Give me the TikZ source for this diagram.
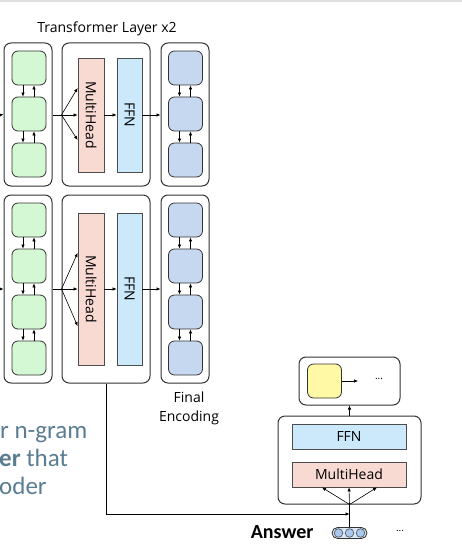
\documentclass[tikz,border=0pt]{standalone}
\usepackage{fontspec}
\setmainfont{Open Sans}
\newfontfamily\slidefont{Carlito}
\usepackage{xcolor}
\definecolor{encgreen}{HTML}{D3F8D3}
\definecolor{finblue}{HTML}{C5D8F0}
\definecolor{mhpink}{HTML}{F8DAD3}
\definecolor{ffnblue}{HTML}{CBE9FA}
\definecolor{decyellow}{HTML}{FFF9A6}
\definecolor{slate}{HTML}{5B7D91}
\definecolor{embblue}{HTML}{A9C8EE}
\usetikzlibrary{positioning,calc,arrows.meta}

\tikzset{
	frame/.style={draw=black!80, line width=1pt, rounded corners=7pt, inner sep=0pt},
	encnode/.style={draw=black!80, line width=0.8pt, rounded corners=6pt, fill=encgreen, minimum width=34pt, minimum height=34pt, inner sep=0pt},
	finnode/.style={encnode, fill=finblue},
	layer/.style={draw=black!70, line width=0.8pt, inner sep=0pt},
	lbl/.style={font=\fontsize{14}{19}\selectfont},
	arr/.style={-{Latex[length=4pt,width=3.5pt]}, line width=0.6pt},
}

\begin{document}
\begin{tikzpicture}[x=1pt, y=-1pt]
	\useasboundingbox (0,0) rectangle (462,548);
	\draw[black!12, line width=1.5pt] (0,1) -- (462,1);
	\node[lbl] (title) at (107,29) {Transformer Layer x2};

	% first layer
	\node[frame, minimum width=48pt, minimum height=143pt] (enc1) at (28,114.5) {};
	\node[frame, minimum width=88pt, minimum height=143pt] (blk1) at (106,114.5) {};
	\node[frame, minimum width=48pt, minimum height=143pt] (fin1) at (185,114.5) {};
	\foreach \i/\y in {1/68,2/114,3/160} {
		\node[encnode] (e1\i) at (29,\y) {};
		\node[finnode] (f1\i) at (185.5,\y) {};
	}
	\node[layer, fill=mhpink, minimum width=26pt, minimum height=114pt] (mh1) at (91,115) {};
	\node[layer, fill=ffnblue, minimum width=25pt, minimum height=114pt] (ffn1) at (129.5,115) {};
	\node[lbl, rotate=-90] at (mh1) {MultiHead};
	\node[lbl, rotate=-90] at (ffn1) {FFN};

	% second layer
	\node[frame, minimum width=48pt, minimum height=188pt] (enc2) at (28,289) {};
	\node[frame, minimum width=88pt, minimum height=188pt] (blk2) at (106,289) {};
	\node[frame, minimum width=48pt, minimum height=188pt] (fin2) at (185,289) {};
	\foreach \i/\y in {1/220,2/266,3/312,4/358} {
		\node[encnode] (e2\i) at (29,\y) {};
		\node[finnode] (f2\i) at (185.5,\y) {};
	}
	\node[layer, fill=mhpink, minimum width=26pt, minimum height=152pt] (mh2) at (91,289) {};
	\node[layer, fill=ffnblue, minimum width=25pt, minimum height=152pt] (ffn2) at (129.5,289) {};
	\node[lbl, rotate=-90] at (mh2) {MultiHead};
	\node[lbl, rotate=-90] at (ffn2) {FFN};

	\foreach \a/\b in {e11/e12,e12/e13,f11/f12,f12/f13,e21/e22,e22/e23,e23/e24,f21/f22,f22/f23,f23/f24} {
		\draw[arr] ([xshift=-6pt]\a.south) -- ([xshift=-6pt]\b.north);
		\draw[arr] ([xshift=5pt]\b.north) -- ([xshift=5pt]\a.south);
	}

	\coordinate (in1) at (0,115);
	\coordinate (in2) at (0,289);
	\draw[arr] (in1) -- (enc1.west);
	\draw[arr] (in2) -- (enc2.west);
	\draw[line width=0.6pt] (enc1.east |- in1) -- (blk1.west |- in1);
	\draw[line width=0.6pt] (enc2.east |- in2) -- (blk2.west |- in2);
	\foreach \dy in {27,0,-25}
		\draw[arr] (blk1.west |- in1) -- ([yshift=\dy pt]mh1.west);
	\foreach \dy in {36,0,-37}
		\draw[arr] (blk2.west |- in2) -- ([yshift=\dy pt]mh2.west);
	\draw[arr] (mh1.east) -- (ffn1.west);
	\draw[arr] (ffn1.east) -- (fin1.west |- ffn1.east);
	\draw[arr] (mh2.east) -- (ffn2.west);
	\draw[arr] (ffn2.east) -- (fin2.west |- ffn2.east);

	\node[lbl, align=center] (final) at (189,408) {Final\\Encoding};

	% decoder
	\node[frame, minimum width=101pt, minimum height=48pt] (out) at (349.5,381) {};
	\node[encnode, fill=decyellow] (y1) at (324.5,381) {};
	\coordinate (ynext) at (358,381);
	\draw[arr] (y1.east) -- (ynext);
	\node[font=\fontsize{10}{10}\selectfont] (dots1) at (379,379) {...};
	\node[frame, minimum width=143pt, minimum height=88pt] (dec) at (349.5,460) {};
	\node[layer, fill=ffnblue, minimum width=114pt, minimum height=25pt, lbl] (ffn3) at (349,436.5) {FFN};
	\node[layer, fill=mhpink, minimum width=114pt, minimum height=25pt, lbl] (mh3) at (349,474.5) {MultiHead};
	\draw[arr] (dec.north) -- (out.south);
	\foreach \dx in {-27,0,28}
		\draw[arr] (dec.south) -- ([xshift=\dx pt]mh3.south);

	\node[draw=black!80, line width=0.8pt, fill=embblue!45, rounded corners=5.5pt, minimum width=35pt, minimum height=11pt, inner sep=0pt] (ans) at (349.5,533) {};
	\foreach \dx in {-11,0,11}
		\draw[draw=black!70, line width=0.6pt, fill=embblue] ([xshift=\dx pt]ans.center) circle (4.3pt);
	\draw[line width=0.6pt] (ans.north) -- (dec.south);
	\coordinate (join) at (349.5,514);
	\draw[arr] (blk2.south) |- (join);
	\node[anchor=base east, font=\slidefont\bfseries\fontsize{20}{22}\selectfont] (answer) at (317,538) {Answer};
	\node[font=\fontsize{10}{10}\selectfont] (dots2) at (400,531) {...};

	% slide text
	\node[anchor=base west, text=slate, inner sep=0pt, font=\slidefont\fontsize{25}{28}\selectfont] (t1) at (0,438) {r n-gram};
	\node[anchor=base west, text=slate, inner sep=0pt, font=\slidefont\fontsize{25}{28}\selectfont] (t2) at (-1,466) {\textbf{er} that};
	\node[anchor=base west, text=slate, inner sep=0pt, font=\slidefont\fontsize{25}{28}\selectfont] (t3) at (-1,494) {oder};
\end{tikzpicture}
\end{document}
